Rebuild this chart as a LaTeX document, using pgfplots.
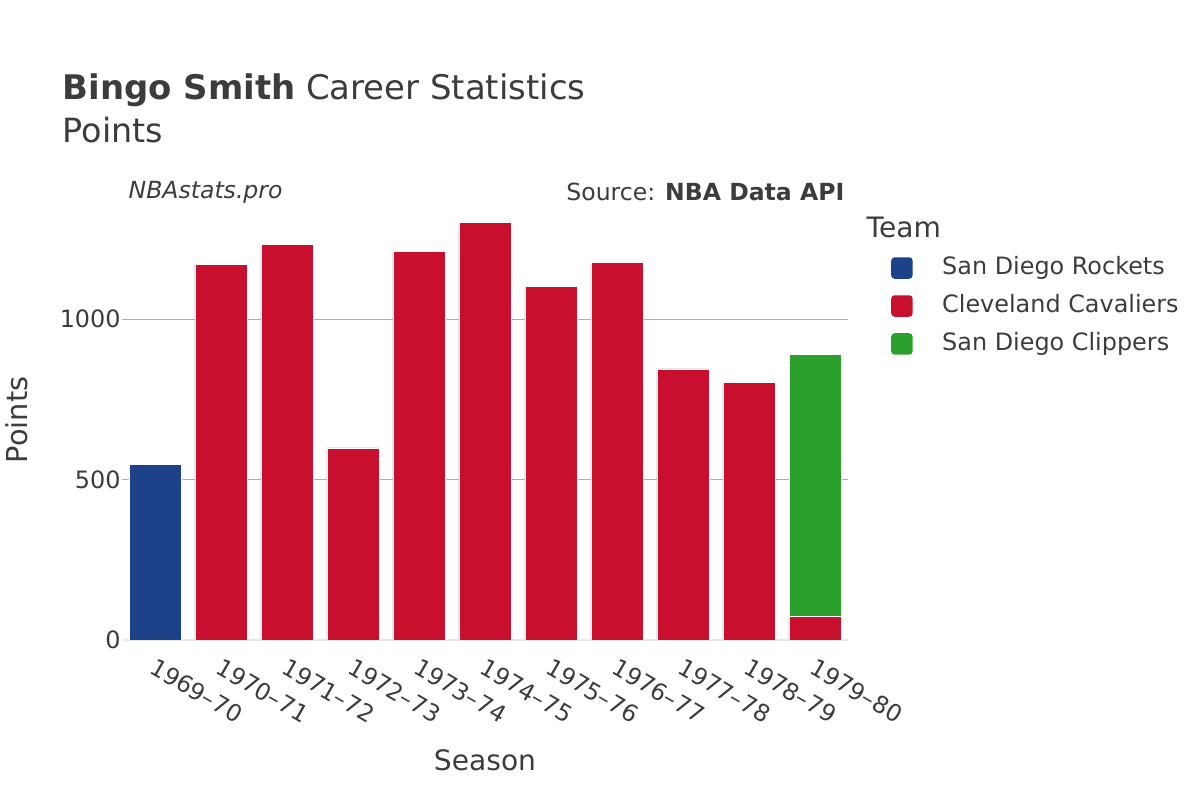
\documentclass[border=0pt]{standalone}
\usepackage{pgfplots}
\pgfplotsset{compat=1.18}
\usepackage{fontspec}
\setmainfont{DejaVu Sans}
\definecolor{rockets}{RGB}{29,66,138}
\definecolor{cavs}{RGB}{200,16,46}
\definecolor{clippers}{RGB}{44,160,44}
\definecolor{txt}{RGB}{60,60,60}
\definecolor{gridc}{RGB}{175,175,175}
\definecolor{zeroc}{RGB}{232,232,232}
\begin{document}
\begin{tikzpicture}
\useasboundingbox (0,0) rectangle (12cm,8cm);
\begin{axis}[
  at={(1.22cm,1.6cm)}, anchor=south west,
  width=7.26cm, height=4.4cm, scale only axis,
  ybar stacked, bar width=0.52cm,
  xmin=-0.5, xmax=10.5, ymin=0, ymax=1372,
  xtick={0,...,10},
  xticklabels={1969–70,1970–71,1971–72,1972–73,1973–74,1974–75,1975–76,1976–77,1977–78,1978–79,1979–80},
  xticklabel style={rotate=-30, anchor=north west, xshift=-0.02cm, yshift=-0.02cm, font=\fontsize{6.7pt}{7.5pt}\selectfont, text=txt},
  ytick={500,1000},
  extra y ticks={0},
  extra y tick style={grid style={color=zeroc, line width=0.6pt}},
  yticklabel style={font=\fontsize{6.8pt}{8pt}\selectfont, text=txt, xshift=0.11cm},
  /pgf/number format/assume math mode=true,
  /pgf/number format/1000 sep={},
  ymajorgrids, grid style={color=gridc, line width=0.3pt},
  axis line style={draw=none}, tick style={draw=none},
  legend style={at={(1.044,0.905)}, anchor=north west, draw=none, fill=none,
    font=\fontsize{6.8pt}{8pt}\selectfont, text=txt, row sep=0.005cm},
  legend cell align=left,
  legend image code/.code={\fill[draw=none, rounded corners=0.035cm] (0cm,-0.105cm) rectangle (0.215cm,0.11cm); \pgfpathrectangle{\pgfpoint{0cm}{0cm}}{\pgfpoint{0.44cm}{0cm}}\pgfusepath{use as bounding box}},
]
\addplot[fill=rockets, draw=white, line width=0.2pt] coordinates {(0,548) (1,0) (2,0) (3,0) (4,0) (5,0) (6,0) (7,0) (8,0) (9,0) (10,0)};
\addlegendentry{San Diego Rockets}
\addplot[fill=cavs, draw=white, line width=0.2pt] coordinates {(0,0) (1,1170) (2,1234) (3,599) (4,1211) (5,1303) (6,1102) (7,1176) (8,845) (9,804) (10,73)};
\addlegendentry{Cleveland Cavaliers}
\addplot[fill=clippers, draw=white, line width=0.2pt] coordinates {(0,0) (1,0) (2,0) (3,0) (4,0) (5,0) (6,0) (7,0) (8,0) (9,0) (10,819)};
\addlegendentry{San Diego Clippers}
\end{axis}
\node[anchor=base west, text=txt, font=\fontsize{9.65pt}{11pt}\selectfont, inner sep=0pt] at (0.62cm,7.0cm) {\textbf{Bingo Smith} Career Statistics};
\node[anchor=base west, text=txt, font=\fontsize{9.5pt}{11pt}\selectfont, inner sep=0pt] at (0.62cm,6.57cm) {Points};
\node[anchor=west, text=txt, font=\fontsize{6.7pt}{8pt}\selectfont\itshape, inner sep=0pt] at (1.28cm,6.08cm) {NBAstats.pro};
\node[anchor=east, text=txt, font=\fontsize{6.7pt}{8pt}\selectfont, inner sep=0pt] at (8.45cm,6.08cm) {Source: \textbf{NBA Data API}};
\node[anchor=west, text=txt, font=\fontsize{8pt}{9pt}\selectfont, inner sep=0pt] at (8.66cm,5.73cm) {Team};
\node[rotate=90, text=txt, font=\fontsize{8.2pt}{9pt}\selectfont, inner sep=0pt] at (0.17cm,3.8cm) {Points};
\node[text=txt, font=\fontsize{8pt}{9pt}\selectfont, inner sep=0pt] at (4.85cm,0.4cm) {Season};
\end{tikzpicture}
\end{document}
